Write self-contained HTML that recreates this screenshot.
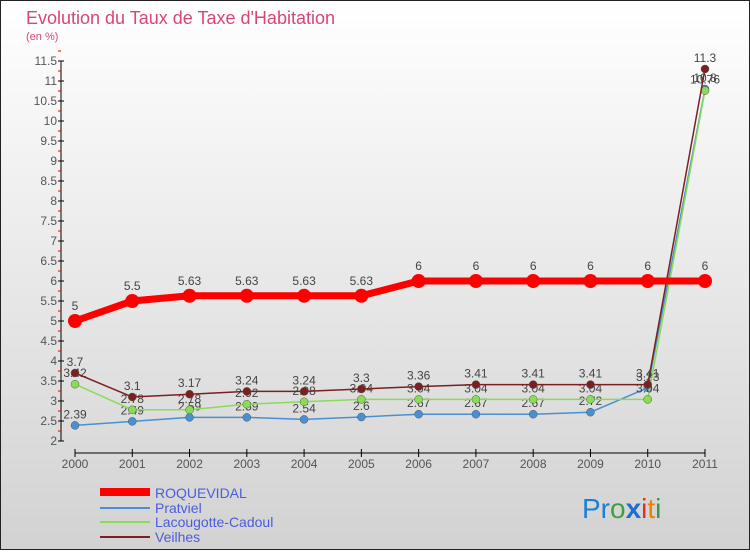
<!DOCTYPE html>
<html><head><meta charset="utf-8"><style>
body{margin:0;width:750px;height:550px;overflow:hidden;font-family:"Liberation Sans",sans-serif}
</style></head><body>
<svg id="c" width="750" height="550" xmlns="http://www.w3.org/2000/svg">
<defs><linearGradient id="bg" x1="0" y1="0" x2="0" y2="1"><stop offset="0" stop-color="#ffffff"/><stop offset="1" stop-color="#d2d2d2"/></linearGradient></defs>
<rect x="0.5" y="0.5" width="749" height="549" fill="url(#bg)" stroke="#222"/>
<text x="26" y="24" font-size="18" fill="#d8457a">Evolution du Taux de Taxe d'Habitation</text>
<text x="26" y="40" font-size="11" fill="#d8457a">(en %)</text>
<g id="axes"></g><g id="series"></g>
<g>
<rect x="100" y="488" width="50" height="8" fill="#ff0000"/>
<text x="155" y="498" font-size="14" fill="#4a5ce0">ROQUEVIDAL</text>
<rect x="100" y="507" width="50" height="2" fill="#4a90d0"/>
<text x="155" y="513" font-size="14" fill="#4a5ce0">Pratviel</text>
<rect x="100" y="521" width="50" height="2" fill="#88dd55"/>
<text x="155" y="527" font-size="14" fill="#4a5ce0">Lacougotte-Cadoul</text>
<rect x="100" y="536" width="50" height="2" fill="#7a2020"/>
<text x="155" y="542" font-size="14" fill="#4a5ce0">Veilhes</text>
</g>
<g font-size="28" font-family="'Liberation Sans',sans-serif">
<text x="582" y="518"><tspan fill="#1a7fd6">Pr</tspan><tspan fill="#40a040">o</tspan><tspan fill="#1a6fd0" font-weight="bold">x</tspan><tspan fill="#e03020">i</tspan><tspan fill="#f08000">t</tspan><tspan fill="#30a040">i</tspan></text>
</g>
</svg>
<script>
const years=[2000,2001,2002,2003,2004,2005,2006,2007,2008,2009,2010,2011];
const roquevidal=[5,5.5,5.63,5.63,5.63,5.63,6,6,6,6,6,6];
const pratviel=[2.39,2.49,2.59,2.59,2.54,2.6,2.67,2.67,2.67,2.72,3.33,10.8];
const lacougotte=[3.42,2.78,2.78,2.92,2.98,3.04,3.04,3.04,3.04,3.04,3.04,10.76];
const veilhes=[3.7,3.1,3.17,3.24,3.24,3.3,3.36,3.41,3.41,3.41,3.41,11.3];
const yTicks=[2,2.5,3,3.5,4,4.5,5,5.5,6,6.5,7,7.5,8,8.5,9,9.5,10,10.5,11,11.5];
const NS="http://www.w3.org/2000/svg";
const xs=i=>75+i*(630/11);
const ys=v=>441-(v-2)*40;
function mk(p,t,a){const e=document.createElementNS(NS,t);for(const k in a)e.setAttribute(k,a[k]);p.appendChild(e);return e;}
const ax=document.getElementById('axes');
const yl=mk(ax,'line',{x1:61,y1:ys(11.5),x2:61,y2:ys(2),stroke:'#000'});


yTicks.forEach(v=>{
  mk(ax,'line',{x1:58,y1:ys(v),x2:64,y2:ys(v),stroke:'#000'});
  mk(ax,'line',{x1:58,y1:ys(v+0.25),x2:61,y2:ys(v+0.25),stroke:'#e00'});
  const t=mk(ax,'text',{x:57,y:ys(v)+4,'font-size':12,'text-anchor':'end',fill:'#555'});
  t.textContent=String(v);
  
  
});
const xl=mk(ax,'line',{x1:xs(0),y1:453,x2:xs(11),y2:453,stroke:'#000'});


years.forEach((y,i)=>{
  mk(ax,'line',{x1:xs(i),y1:449,x2:xs(i),y2:457,stroke:'#000'});
  const t=mk(ax,'text',{x:xs(i),y:468,'font-size':12,'text-anchor':'middle',fill:'#555'});
  t.textContent=y;
  
  
});
const sg=document.getElementById('series');
function draw(data,color,w,r,name){
  const g=mk(sg,'g',{});
  
  
  const pl=mk(g,'polyline',{points:data.map((v,i)=>xs(i)+','+ys(v)).join(' '),fill:'none',stroke:color,'stroke-width':w});
  
  
  data.forEach((v,i)=>{
    const c=mk(g,'circle',{cx:xs(i),cy:ys(v),r:r,fill:color,stroke:w>3?'none':'#555','stroke-width':0.5});
    
    
    const t=mk(g,'text',{x:xs(i),y:ys(v)-(w>3?11:7),'font-size':12,'text-anchor':'middle',fill:'#444'});
    t.textContent=String(v);
    
    
  });
}
draw(pratviel,'#4a90d0',1.5,4,'pratviel');
draw(lacougotte,'#88dd55',1.5,4,'lacougotte-cadoul');
draw(veilhes,'#7a2020',1.5,4,'veilhes');
draw(roquevidal,'#ff0000',7,7,'roquevidal');
</script>
</body></html>
